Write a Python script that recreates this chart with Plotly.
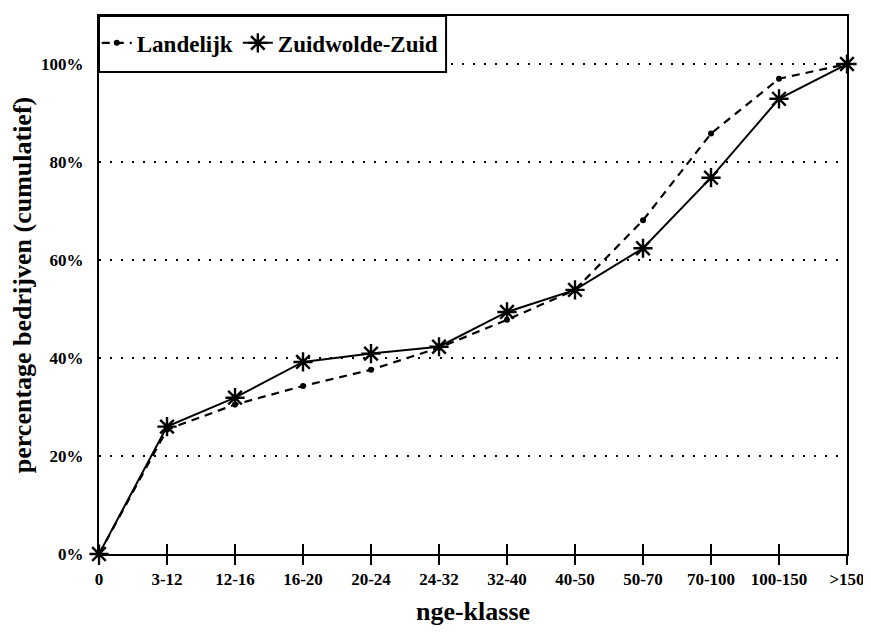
import plotly.graph_objects as go

categories = ["0", "3-12", "12-16", "16-20", "20-24", "24-32", "32-40",
              "40-50", "50-70", "70-100", "100-150", ">150"]
landelijk = [0, 25.4, 30.5, 34.3, 37.6, 42.1, 47.8, 53.9, 68.1, 85.8, 97.0, 100]
zuidwolde = [0, 26.0, 31.9, 39.2, 40.9, 42.3, 49.4, 53.9, 62.4, 76.8, 92.9, 100]
y_ticks = [0, 20, 40, 60, 80, 100]
y_ticktext = ["0%", "20%", "40%", "60%", "80%", "100%"]

FONT = "Liberation Serif"
xpos = list(range(len(categories)))

fig = go.Figure()
fig.add_trace(go.Scatter(
    x=xpos, y=landelijk, name="Landelijk", mode="lines+markers",
    line=dict(color="black", width=2.2, dash="8px,6px"),
    marker=dict(symbol="circle", size=6, color="black"),
    cliponaxis=False,
))
fig.add_trace(go.Scatter(
    x=xpos, y=zuidwolde, name="Zuidwolde-Zuid", mode="lines+markers",
    line=dict(color="black", width=2),
    marker=dict(symbol="asterisk-open", size=16, color="black",
                line=dict(color="black", width=2.4)),
    cliponaxis=False,
))
# overlay axis to draw the inner half of the crossing tick marks
fig.add_trace(go.Scatter(x=[xpos[0]], y=[None], xaxis="x2", showlegend=False,
                         hoverinfo="skip"))

fig.update_layout(
    width=863, height=626,
    margin=dict(l=88, r=21, t=6, b=80),
    paper_bgcolor="white", plot_bgcolor="white",
    font=dict(family=FONT, color="black", size=16),
    showlegend=True,
    legend=dict(
        orientation="h", x=-0.003, y=0.95, xanchor="left", yanchor="middle",
        bgcolor="rgba(0,0,0,0)", borderwidth=0,
        font=dict(family=FONT, size=23, color="black", weight="bold"),
        itemwidth=30, tracegroupgap=0,
    ),
    xaxis=dict(
        range=[0, 11], tickmode="array", tickvals=xpos, ticktext=categories,
        showgrid=False, zeroline=False,
        showline=True, mirror=True, linecolor="black", linewidth=2,
        ticks="outside", ticklen=9, tickwidth=2, tickcolor="black",
        tickfont=dict(family=FONT, size=17, weight="bold"),
        title=dict(text="nge-klasse", standoff=13,
                   font=dict(family=FONT, size=26, weight="bold")),
    ),
    xaxis2=dict(
        range=[0, 11], overlaying="x", side="bottom", tickmode="array",
        tickvals=xpos, showticklabels=False, showgrid=False, zeroline=False,
        ticks="inside", ticklen=10, tickwidth=2, tickcolor="black",
        showline=False,
    ),
    yaxis=dict(
        range=[0, 109.8], tickmode="array", tickvals=y_ticks, ticktext=y_ticktext,
        showgrid=True, gridcolor="black", gridwidth=1.6, griddash="2px,9px",
        zeroline=False,
        showline=True, mirror=True, linecolor="black", linewidth=2,
        ticks="", ticklabelstandoff=10,
        tickfont=dict(family=FONT, size=17, weight="bold"),
        title=dict(text="percentage bedrijven (cumulatief)", standoff=9,
                   font=dict(family=FONT, size=26, weight="bold")),
    ),
    shapes=[dict(
        type="rect", xref="paper", yref="paper",
        x0=0, x1=0.464, y0=0.896, y1=1,
        line=dict(color="black", width=2), fillcolor="white", layer="above",
    )],
)

fig.write_html("out.html")
